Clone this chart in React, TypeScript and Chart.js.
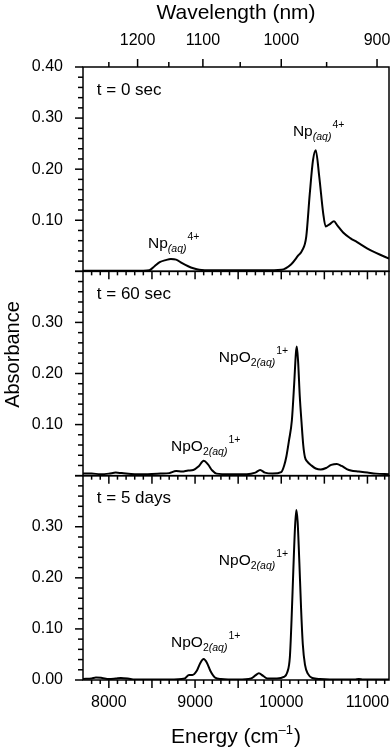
import React, { useEffect, useRef } from "react";
import { Chart, registerables } from "chart.js";

Chart.register(...registerables);

// ---- data ----
const energyT0 = [7700, 7800, 7900, 8000, 8100, 8200, 8300, 8400, 8470, 8530, 8590, 8660, 8720, 8780, 8850, 8920, 8980, 9050, 9200, 9400, 9600, 9800, 10000, 10116, 10197, 10240, 10290, 10330, 10368, 10400, 10441, 10487, 10515, 10560, 10612, 10650, 10718, 10800, 10880, 10995, 11100, 11250];
const absT0 = [0.001, 0.001, 0.001, 0.001, 0.001, 0.001, 0.001, 0.001, 0.002, 0.010, 0.018, 0.022, 0.024, 0.023, 0.016, 0.010, 0.006, 0.003, 0.002, 0.002, 0.002, 0.002, 0.003, 0.014, 0.031, 0.040, 0.068, 0.150, 0.217, 0.237, 0.185, 0.113, 0.088, 0.092, 0.098, 0.090, 0.076, 0.065, 0.057, 0.045, 0.036, 0.025];

const energyT60 = [7700, 7800, 7900, 8000, 8080, 8150, 8300, 8450, 8600, 8700, 8780, 8850, 8920, 8980, 9040, 9100, 9150, 9200, 9250, 9400, 9600, 9700, 9755, 9810, 9900, 10000, 10034, 10060, 10090, 10123, 10150, 10170, 10180, 10195, 10215, 10235, 10255, 10275, 10300, 10350, 10400, 10459, 10520, 10580, 10645, 10700, 10760, 10807, 10900, 11000, 11100, 11250];
const absT60 = [0.004, 0.004, 0.003, 0.004, 0.006, 0.005, 0.003, 0.003, 0.004, 0.005, 0.009, 0.008, 0.010, 0.011, 0.018, 0.029, 0.022, 0.010, 0.004, 0.003, 0.003, 0.006, 0.011, 0.006, 0.004, 0.007, 0.020, 0.038, 0.069, 0.108, 0.180, 0.240, 0.253, 0.225, 0.155, 0.105, 0.060, 0.036, 0.028, 0.020, 0.014, 0.012, 0.015, 0.021, 0.023, 0.019, 0.013, 0.010, 0.008, 0.006, 0.004, 0.003];

const energyT5d = [7700, 7800, 7850, 7920, 8000, 8080, 8140, 8220, 8300, 8500, 8700, 8880, 8930, 8970, 9020, 9060, 9100, 9140, 9180, 9230, 9300, 9500, 9650, 9700, 9740, 9790, 9840, 9950, 10030, 10070, 10100, 10120, 10140, 10160, 10175, 10190, 10210, 10230, 10250, 10275, 10310, 10360, 10450, 10700, 10850, 10900, 10950, 11250];
const absT5d = [0.002, 0.003, 0.005, 0.004, 0.002, 0.003, 0.004, 0.003, 0.001, 0.001, 0.001, 0.003, 0.010, 0.010, 0.018, 0.033, 0.041, 0.033, 0.017, 0.005, 0.002, 0.001, 0.003, 0.009, 0.013, 0.008, 0.003, 0.003, 0.006, 0.015, 0.045, 0.120, 0.215, 0.300, 0.333, 0.310, 0.230, 0.140, 0.070, 0.030, 0.012, 0.004, 0.002, 0.001, 0.001, 0.002, 0.001, 0.001];

const energyTicks = [8000, 9000, 10000, 11000];
const wavelengthTicks = [1200, 1100, 1000, 900];
const wavelengthMinorTicks = [1250, 1150, 1050, 950];
const yTicksTop = [0.1, 0.2, 0.3, 0.4];
const yTicksMid = [0.1, 0.2, 0.3];
const yTicksBot = [0, 0.1, 0.2, 0.3];
const panelLabels = ["t = 0 sec", "t = 60 sec", "t = 5 days"];
const speciesLabels = [
  { panel: "yTop", x: 8454, y: 0.045, base: "Np", sub: "", subIt: "(aq)", sup: "4+" },
  { panel: "yTop", x: 10135, y: 0.265, base: "Np", sub: "", subIt: "(aq)", sup: "4+" },
  { panel: "yMid", x: 8721, y: 0.049, base: "NpO", sub: "2", subIt: "(aq)", sup: "1+" },
  { panel: "yMid", x: 9276, y: 0.222, base: "NpO", sub: "2", subIt: "(aq)", sup: "1+" },
  { panel: "yBot", x: 8721, y: 0.065, base: "NpO", sub: "2", subIt: "(aq)", sup: "1+" },
  { panel: "yBot", x: 9276, y: 0.225, base: "NpO", sub: "2", subIt: "(aq)", sup: "1+" },
];

const FONT = '"Liberation Sans", Arial, Helvetica, sans-serif';
const PANELS = ["yTop", "yMid", "yBot"];

function pts(xs: number[], ys: number[]) {
  return xs.map((x, i) => ({ x, y: ys[i] }));
}

const decorPlugin = {
  id: "decor",
  afterDraw(chart: any) {
    const ctx: CanvasRenderingContext2D = chart.ctx;
    const xs = chart.scales.x;
    const area = chart.chartArea;
    const line = (x1: number, y1: number, x2: number, y2: number) => {
      ctx.beginPath();
      ctx.moveTo(x1, y1);
      ctx.lineTo(x2, y2);
      ctx.stroke();
    };
    ctx.save();
    ctx.strokeStyle = "#000";
    ctx.fillStyle = "#000";
    ctx.lineWidth = 1.5;
    PANELS.forEach((id) => {
      const s = chart.scales[id];
      ctx.strokeRect(area.left, s.top, area.right - area.left, s.bottom - s.top);
      for (let k = 0; k <= 20; k++) {
        const y = s.getPixelForValue(k * 0.02);
        const len = k % 5 === 0 ? 8 : 5;
        line(area.left - len, y, area.left, y);
      }
      for (let e = 7800; e <= 11200; e += 100) {
        const x = xs.getPixelForValue(e);
        const len = e % 500 === 0 ? 8 : 4;
        line(x, s.bottom, x, s.bottom + len);
      }
    });
    // wavelength ticks on top
    wavelengthTicks.forEach((w) => {
      const x = xs.getPixelForValue(1e7 / w);
      line(x, area.top, x, area.top - 8);
    });
    wavelengthMinorTicks.forEach((w) => {
      const x = xs.getPixelForValue(1e7 / w);
      line(x, area.top, x, area.top - 5);
    });

    // panel labels
    ctx.textAlign = "left";
    ctx.textBaseline = "middle";
    ctx.font = `17px ${FONT}`;
    PANELS.forEach((id, i) => {
      const s = chart.scales[id];
      ctx.fillText(panelLabels[i], xs.getPixelForValue(7860), s.getPixelForValue(0.355));
    });

    // species labels
    ctx.textBaseline = "alphabetic";
    speciesLabels.forEach((l) => {
      const s = chart.scales[l.panel];
      let x = xs.getPixelForValue(l.x);
      const y = s.getPixelForValue(l.y);
      ctx.font = `15.5px ${FONT}`;
      ctx.fillText(l.base, x, y);
      x += ctx.measureText(l.base).width;
      if (l.sub) {
        ctx.font = `10.5px ${FONT}`;
        ctx.fillText(l.sub, x, y + 4);
        x += ctx.measureText(l.sub).width;
      }
      ctx.font = `italic 10.5px ${FONT}`;
      ctx.fillText(l.subIt, x, y + 4);
      x += ctx.measureText(l.subIt).width + 1;
      ctx.font = `10.5px ${FONT}`;
      ctx.fillText(l.sup, x, y - 8);
    });

    // axis titles
    const cx = (area.left + area.right) / 2;
    ctx.textAlign = "left";
    ctx.font = `21px ${FONT}`;
    const w1 = ctx.measureText("Energy (cm").width;
    ctx.font = `13px ${FONT}`;
    const w2 = ctx.measureText("\u20131").width;
    ctx.font = `21px ${FONT}`;
    const w3 = ctx.measureText(")").width;
    let tx = cx - (w1 + w2 + w3 + 1) / 2;
    const ty = chart.height - 9;
    ctx.fillText("Energy (cm", tx, ty);
    tx += w1;
    ctx.font = `13px ${FONT}`;
    ctx.fillText("\u20131", tx, ty - 9);
    tx += w2 + 1;
    ctx.font = `21px ${FONT}`;
    ctx.fillText(")", tx, ty);

    ctx.textAlign = "center";
    ctx.fillText("Wavelength (nm)", cx, 19);

    const yTop = chart.scales.yTop;
    const yBot = chart.scales.yBot;
    ctx.save();
    ctx.translate(area.left - 70, (yTop.top + yBot.bottom) / 2 - 19);
    ctx.rotate(-Math.PI / 2);
    ctx.textAlign = "center";
    ctx.textBaseline = "middle";
    ctx.font = `20px ${FONT}`;
    ctx.fillText("Absorbance", 0, 0);
    ctx.restore();
    ctx.restore();
  },
};

function yScale(ticks: number[]) {
  return {
    type: "linear",
    position: "left",
    stack: "panels",
    stackWeight: 1,
    min: 0,
    max: 0.4,
    afterBuildTicks: (s: any) => {
      s.ticks = ticks.map((v) => ({ value: v }));
    },
    afterFit: (s: any) => {
      s.width = 83;
      s.paddingTop = 0;
      s.paddingBottom = 0;
    },
    ticks: {
      callback: (v: number) => Number(v).toFixed(2),
      font: { family: FONT, size: 16 },
      color: "#000",
      padding: 12,
      autoSkip: false,
    },
    grid: { display: false, drawTicks: true, tickLength: 8 },
    border: { display: false },
  };
}

export default function App() {
  const ref = useRef<HTMLCanvasElement>(null);
  useEffect(() => {
    const canvas = ref.current!;
    const mk = (xs: number[], ys: number[], axis: string) => ({
      data: pts(xs, ys),
      xAxisID: "x",
      yAxisID: axis,
      borderColor: "#000",
      borderWidth: 2,
      pointRadius: 0,
      fill: false,
      cubicInterpolationMode: "monotone",
    });
    const chart = new Chart(canvas, {
      type: "line",
      data: {
        datasets: [
          mk(energyT0, absT0, "yTop"),
          mk(energyT60, absT60, "yMid"),
          mk(energyT5d, absT5d, "yBot"),
        ],
      },
      options: {
        animation: false,
        responsive: false,
        devicePixelRatio: 1,
        layout: { padding: { left: 0, right: 3, top: 0, bottom: 0 } },
        plugins: { legend: { display: false }, tooltip: { enabled: false } },
        scales: {
          x: {
            type: "linear",
            position: "bottom",
            min: 7700,
            max: 11250,
            afterBuildTicks: (s: any) => {
              s.ticks = energyTicks.map((v) => ({ value: v }));
            },
            afterFit: (s: any) => {
              s.height = 72;
              s.paddingLeft = 0;
              s.paddingRight = 0;
            },
            ticks: {
              callback: (v: number) => String(v),
              font: { family: FONT, size: 16 },
              color: "#000",
              padding: 5,
              maxRotation: 0,
              autoSkip: false,
            },
            grid: { display: false, drawTicks: true, tickLength: 8 },
            border: { display: false },
          },
          x2: {
            type: "linear",
            position: "top",
            min: 7700,
            max: 11250,
            afterBuildTicks: (s: any) => {
              s.ticks = wavelengthTicks.map((w) => ({ value: 1e7 / w }));
            },
            afterFit: (s: any) => {
              s.height = 67;
              s.paddingLeft = 0;
              s.paddingRight = 0;
            },
            ticks: {
              callback: (v: number) => String(Math.round(1e7 / v)),
              font: { family: FONT, size: 16 },
              color: "#000",
              padding: 9,
              maxRotation: 0,
              autoSkip: false,
            },
            grid: { display: false, drawTicks: true, tickLength: 8 },
            border: { display: false },
          },
          yBot: yScale(yTicksBot),
          yMid: yScale(yTicksMid),
          yTop: yScale(yTicksTop),
        },
      } as any,
      plugins: [decorPlugin],
    } as any);
    return () => chart.destroy();
  }, []);
  return (
    <div style={{ position: "fixed", left: 0, top: 0, width: 392, height: 752, background: "#fff" }}>
      <canvas ref={ref} width={392} height={752} style={{ display: "block" }} />
    </div>
  );
}
